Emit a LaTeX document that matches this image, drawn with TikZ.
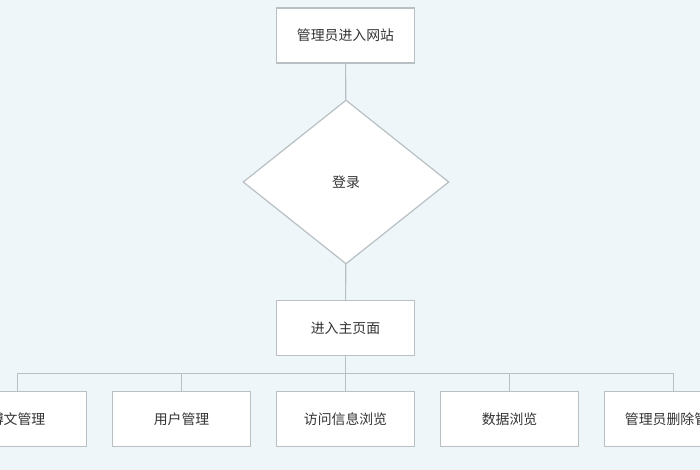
\documentclass[tikz,border=0pt]{standalone}
\usepackage{fontspec}
\setmainfont{Noto Sans CJK SC}
\usetikzlibrary{shapes.geometric}
\definecolor{bgblue}{HTML}{EEF6FA}
\definecolor{edgegray}{HTML}{B8C0C4}
\definecolor{txtgray}{HTML}{333333}
\tikzset{every picture/.style={line width=0.75pt}}
\tikzset{
  stepbox/.style={draw=edgegray, fill=white, line width=0.9pt, minimum width=103.1pt, minimum height=41.3pt, inner sep=0pt, text=txtgray, font=\fontsize{10.4}{12}\selectfont},
  decbox/.style={draw=edgegray, fill=white, line width=0.9pt, shape=diamond, minimum width=154.5pt, minimum height=123pt, inner sep=0pt, text=txtgray, font=\fontsize{10.4}{12}\selectfont},
  link/.style={draw=edgegray, line width=0.9pt}
}
\begin{document}
\begin{tikzpicture}[x=0.75pt,y=0.75pt,yscale=-1,xscale=1]
	\useasboundingbox (0,0) rectangle (700,470);
	\clip (0,0) rectangle (700,470);
	\fill [bgblue] (0,0) rectangle (700,470);

	% Text Node
	\node [stepbox] (enter) at (345.5,35.5) {管理员进入网站};
	\node [decbox] (login) at (346,182) {登录};
	\node [stepbox] (home) at (345.5,328) {进入主页面};
	\coordinate (bus) at (345.5,373.3);

	\node [stepbox] (blog) at (17.5,419.2) {博文管理};
	\node [stepbox] (user) at (181.5,419.2) {用户管理};
	\node [stepbox] (visit) at (345.5,419.2) {访问信息浏览};
	\node [stepbox] (data) at (509.5,419.2) {数据浏览};
	\node [stepbox] (admin) at (673.5,419.2) {管理员删除管理};

	%Straight Lines
	\draw [link] (enter) -- (login);
	\draw [link] (login) -- (home);
	\draw [link] (home) -- (bus);
	\foreach \sub in {blog,user,visit,data,admin}
		\draw [link] (bus) -| (\sub.north);

	\end{tikzpicture}
\end{document}
